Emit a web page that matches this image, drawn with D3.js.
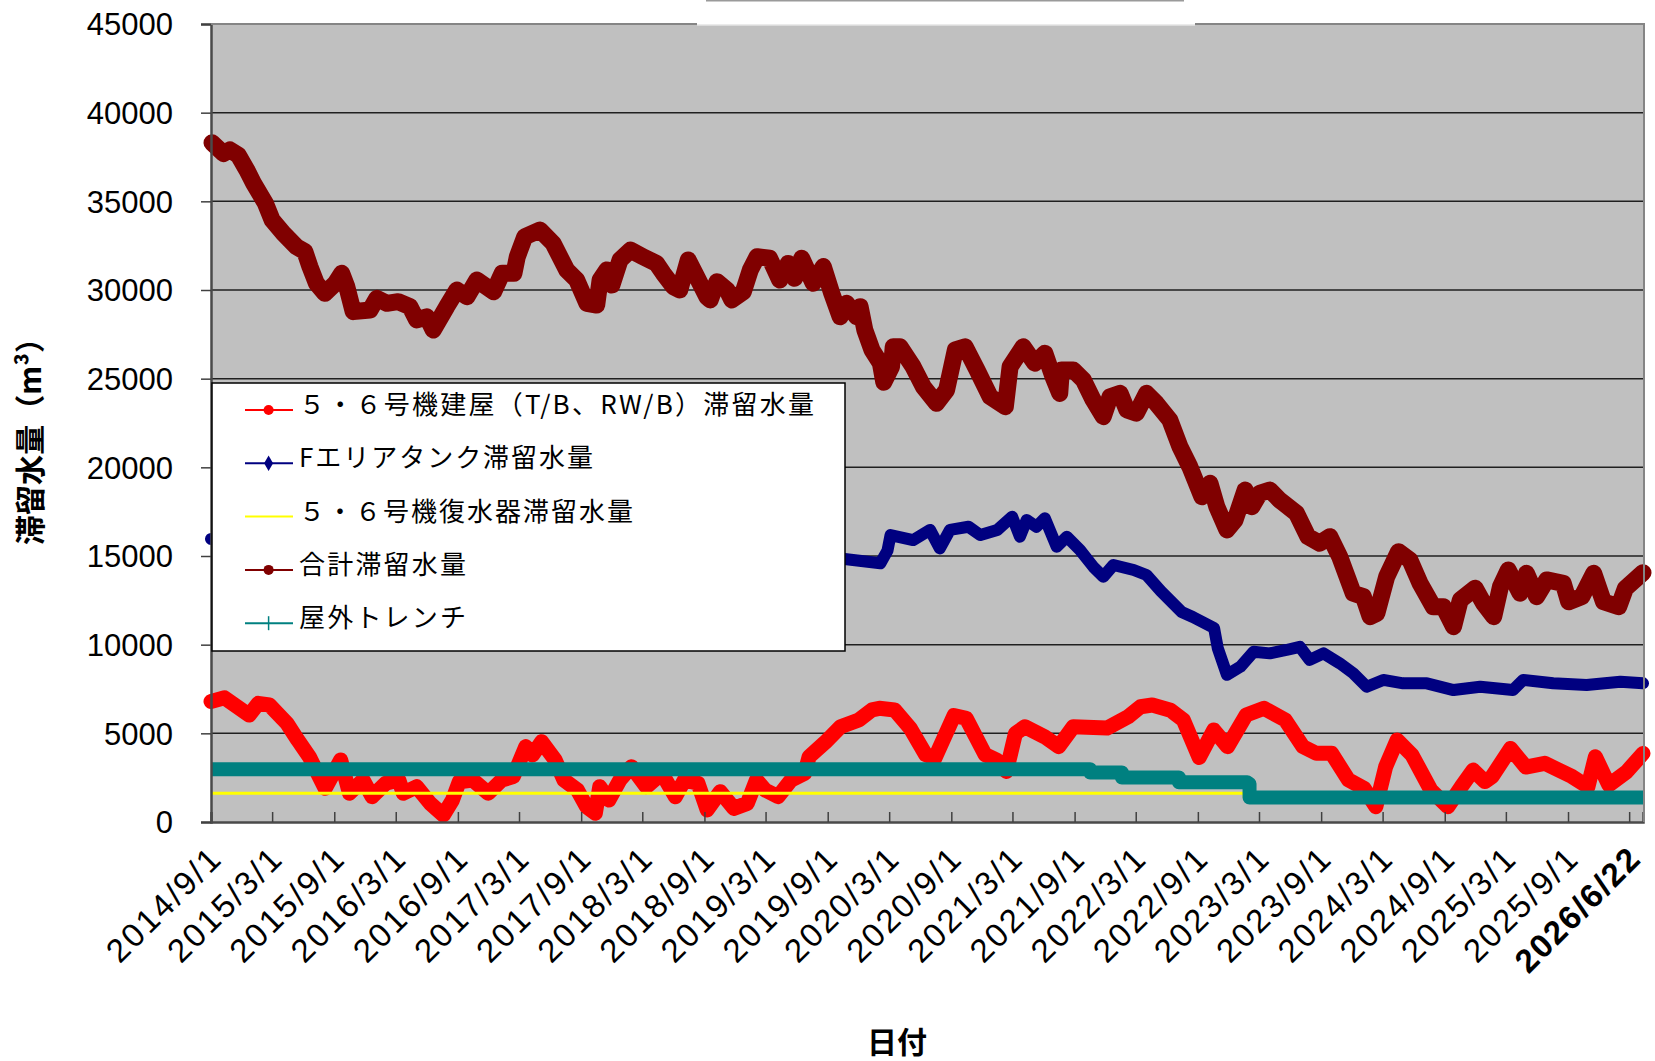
<!DOCTYPE html>
<html>
<head>
<meta charset="utf-8">
<script src="https://cdn.jsdelivr.net/npm/d3@7"></script>
<style>
body { margin: 0; background: #fff; }
svg { display: block; }
</style>
</head>
<body>
<svg width="1655" height="1061"></svg>
<script>
// ---- data ----
var xStart = "2014-09-01", xEnd = "2026-04-11";
var yTicks = [0, 5000, 10000, 15000, 20000, 25000, 30000, 35000, 40000, 45000];
var xTickLabels = ["2014/9/1", "2015/3/1", "2015/9/1", "2016/3/1", "2016/9/1", "2017/3/1",
  "2017/9/1", "2018/3/1", "2018/9/1", "2019/3/1", "2019/9/1", "2020/3/1", "2020/9/1",
  "2021/3/1", "2021/9/1", "2022/3/1", "2022/9/1", "2023/3/1", "2023/9/1", "2024/3/1",
  "2024/9/1", "2025/3/1", "2025/9/1"];
var lastTick = "2026/3/1";
var endLabel = "2026/6/22";

var legendNames = ["５・６号機建屋（T/B、RW/B）滞留水量", "Fエリアタンク滞留水量",
  "５・６号機復水器滞留水量", "合計滞留水量", "屋外トレンチ"];

// 5・6号機建屋
var bldgSeries = [["2014-09-01",6800],["2014-10-11",7000],["2014-12-23",6030],["2015-01-19",6690],
  ["2015-02-21",6600],["2015-04-14",5560],["2015-05-16",4620],["2015-06-19",3680],["2015-08-05",1900],
  ["2015-09-20",3500],["2015-10-16",1620],["2015-11-25",2370],["2015-12-22",1430],["2016-01-31",2180],
  ["2016-03-10",2370],["2016-03-23",1620],["2016-05-02",1990],["2016-06-11",1050],["2016-07-20",390],
  ["2016-08-16",1240],["2016-09-05",2270],["2016-10-15",2370],["2016-11-30",1620],["2017-01-09",2370],
  ["2017-02-12",2560],["2017-03-21",4250],["2017-04-10",3780],["2017-05-07",4530],["2017-06-16",3500],
  ["2017-07-12",2370],["2017-08-21",1800],["2017-09-17",860],["2017-10-13",490],["2017-10-26",1990],
  ["2017-11-22",1240],["2017-12-25",2370],["2018-01-28",3120],["2018-03-13",1990],["2018-04-28",2750],
  ["2018-06-07",1430],["2018-07-04",2370],["2018-08-13",2180],["2018-09-09",680],["2018-10-18",1710],
  ["2018-11-27",770],["2019-01-06",1050],["2019-02-02",2370],["2019-02-28",1800],["2019-04-07",1430],
  ["2019-05-16",2370],["2019-06-25",2750],["2019-07-08",3680],["2019-08-25",4500],["2019-10-09",5370],
  ["2019-12-02",5750],["2020-01-10",6320],["2020-02-01",6410],["2020-03-17",6320],["2020-05-02",5300],
  ["2020-06-17",3800],["2020-07-14",3590],["2020-09-09",6000],["2020-10-15",5850],["2020-12-10",3800],
  ["2021-01-13",3500],["2021-02-11",2850],["2021-03-10",5000],["2021-04-07",5370],["2021-06-04",4810],
  ["2021-07-16",4250],["2021-08-28",5370],["2021-12-06",5300],["2022-02-07",5940],["2022-03-15",6500],
  ["2022-04-19",6600],["2022-06-12",6300],["2022-07-20",5750],["2022-09-05",3640],["2022-10-18",5190],
  ["2022-11-28",4250],["2023-01-22",6030],["2023-03-16",6410],["2023-05-18",5750],["2023-07-09",4250],
  ["2023-08-18",3870],["2023-10-02",3870],["2023-11-21",2370],["2024-01-06",1900],["2024-02-10",860],
  ["2024-03-10",3120],["2024-04-13",4620],["2024-05-27",3780],["2024-07-22",1800],["2024-09-10",860],
  ["2024-10-20",1990],["2024-11-24",2930],["2024-12-29",2280],["2025-01-19",2560],["2025-03-15",4150],
  ["2025-04-29",3100],["2025-06-24",3310],["2025-09-13",2560],["2025-10-30",1990],["2025-11-21",3680],
  ["2025-12-31",2080],["2026-02-22",2840],["2026-04-11",3870]];

// Fエリアタンク (hidden under the legend until late 2019)
var tankSeries = [["2014-09-01",15960],["2019-10-21",14830],["2020-02-04",14590],["2020-02-25",15300],
  ["2020-03-05",16180],["2020-05-11",15900],["2020-06-30",16470],["2020-07-29",15430],["2020-08-28",16470],
  ["2020-10-22",16650],["2020-11-26",16180],["2021-01-15",16470],["2021-02-28",17220],["2021-03-23",16090],
  ["2021-04-12",17030],["2021-05-11",16650],["2021-06-05",17130],["2021-07-10",15520],["2021-08-09",16090],
  ["2021-09-17",15340],["2021-10-26",14400],["2021-11-25",13830],["2021-12-25",14490],["2022-02-23",14210],
  ["2022-04-02",13930],["2022-05-14",13030],["2022-07-15",11840],["2022-08-17",11560],["2022-10-19",10940],
  ["2022-10-30",9800],["2022-11-26",8300],["2023-01-05",8760],["2023-02-13",9600],["2023-04-02",9510],
  ["2023-05-21",9700],["2023-06-30",9880],["2023-07-29",9140],["2023-09-08",9510],["2023-10-26",8950],
  ["2023-12-05",8390],["2024-01-14",7630],["2024-03-03",8010],["2024-05-01",7820],["2024-07-10",7820],
  ["2024-09-27",7440],["2024-12-15",7630],["2025-03-22",7440],["2025-04-21",8010],["2025-07-19",7820],
  ["2025-10-26",7730],["2026-02-03",7910],["2026-04-11",7820]];

// 5・6号機復水器
var condSeries = [["2014-09-01",1620],["2023-01-16",1400],["2026-04-11",1400]];

// 合計
var totalSeries = [["2014-09-04",38300],["2014-10-08",37700],["2014-10-27",37900],["2014-11-21",37600],
  ["2014-12-16",36770],["2015-01-05",36020],["2015-02-09",34890],["2015-03-01",33950],["2015-04-03",33200],
  ["2015-05-12",32440],["2015-06-06",32160],["2015-06-21",31310],["2015-07-10",30380],["2015-08-04",29810],
  ["2015-09-04",30380],["2015-09-23",30940],["2015-10-08",30190],["2015-10-27",28780],["2015-12-16",28870],
  ["2016-01-05",29530],["2016-02-04",29250],["2016-03-08",29340],["2016-04-12",29060],["2016-05-02",28310],
  ["2016-06-01",28490],["2016-06-20",27740],["2016-07-30",29060],["2016-08-29",30000],["2016-09-28",29620],
  ["2016-10-27",30560],["2016-12-16",29900],["2017-01-10",30940],["2017-02-14",30940],["2017-02-24",31880],
  ["2017-03-18",33000],["2017-05-02",33380],["2017-06-10",32630],["2017-07-20",31130],["2017-08-19",30560],
  ["2017-09-18",29250],["2017-10-17",29150],["2017-10-27",30560],["2017-11-16",31130],["2017-12-01",30280],
  ["2017-12-25",31690],["2018-01-25",32250],["2018-03-03",31880],["2018-04-12",31500],["2018-05-02",30940],
  ["2018-06-01",30190],["2018-06-20",30000],["2018-07-15",31690],["2018-08-09",30750],["2018-09-08",29620],
  ["2018-09-18",29440],["2018-10-08",30470],["2018-11-07",30000],["2018-11-21",29440],["2018-12-25",29900],
  ["2019-01-15",31130],["2019-02-04",31880],["2019-03-13",31790],["2019-04-12",30560],["2019-05-07",31500],
  ["2019-05-26",30660],["2019-06-16",31790],["2019-07-20",30380],["2019-08-19",31320],["2019-09-13",29810],
  ["2019-10-08",28490],["2019-10-27",29250],["2019-11-26",28490],["2019-12-06",29060],["2019-12-20",27740],
  ["2020-01-10",26620],["2020-02-04",25870],["2020-02-14",24800],["2020-03-08",25680],["2020-03-13",26800],
  ["2020-04-02",26800],["2020-05-11",25670],["2020-06-10",24550],["2020-07-19",23610],["2020-08-18",24360],
  ["2020-09-13",26620],["2020-10-12",26800],["2020-11-16",25490],["2020-12-25",23980],["2021-02-08",23420],
  ["2021-02-22",25670],["2021-04-02",26800],["2021-05-06",25870],["2021-06-05",26430],["2021-06-29",25110],
  ["2021-07-19",24170],["2021-07-24",25490],["2021-08-28",25490],["2021-09-27",24920],["2021-10-26",23800],
  ["2021-11-25",22860],["2021-12-15",23980],["2022-01-14",24170],["2022-02-03",23230],["2022-03-03",23050],
  ["2022-04-02",24170],["2022-05-01",23610],["2022-06-10",22670],["2022-07-10",21160],["2022-08-08",20040],
  ["2022-09-13",18340],["2022-10-07",19100],["2022-10-27",17780],["2022-11-26",16470],["2022-12-20",17030],
  ["2023-01-19",18720],["2023-02-08",17780],["2023-03-03",18530],["2023-04-02",18720],["2023-05-01",18160],
  ["2023-06-20",17410],["2023-07-24",16090],["2023-08-28",15720],["2023-09-27",16090],["2023-10-26",14960],
  ["2023-12-05",12900],["2024-01-04",12710],["2024-01-24",11580],["2024-02-13",11770],["2024-03-13",13830],
  ["2024-04-17",15240],["2024-05-21",14770],["2024-06-20",13460],["2024-07-29",12140],["2024-08-28",12140],
  ["2024-09-27",11010],["2024-10-17",12520],["2024-11-30",13180],["2024-12-25",12330],["2025-01-24",11580],
  ["2025-02-13",13270],["2025-03-08",14210],["2025-04-12",12900],["2025-05-01",14020],["2025-05-31",12710],
  ["2025-06-30",13650],["2025-08-18",13460],["2025-09-03",12420],["2025-10-12",12710],["2025-11-16",14020],
  ["2025-12-15",12420],["2026-01-29",12140],["2026-02-18",13180],["2026-03-18",13650],["2026-04-11",14060]];

// 屋外トレンチ
var trenchSeries = [["2014-09-01",2980],["2021-10-17",2790],["2022-01-19",2510],["2022-07-07",2245],
  ["2023-01-25",2150],["2023-02-01",1380],["2026-04-11",1380]];

// ---- layout ----
var svg = d3.select("svg");
var plot = { left: 211, top: 24, right: 1644, bottom: 822 };
var parseDay = d3.timeParse("%Y-%m-%d");
var parseTick = d3.timeParse("%Y/%m/%d");

var x = d3.scaleTime()
    .domain([parseDay(xStart), parseDay(xEnd)])
    .range([plot.left, plot.right - 1]);
var y = d3.scaleLinear()
    .domain([0, 45000])
    .range([plot.bottom, plot.top]);

var numFont = "'Liberation Sans', Arial, sans-serif";
var jpFont = "'Noto Sans CJK JP', 'Noto Sans', sans-serif";

// plot area
svg.append("rect")
    .attr("x", plot.left).attr("y", plot.top)
    .attr("width", plot.right - plot.left).attr("height", plot.bottom - plot.top)
    .attr("fill", "#c0c0c0");

svg.append("g")
    .selectAll("line")
    .data(yTicks.filter(function(v) { return v > 0 && v < 45000; }))
    .enter().append("line")
    .attr("x1", plot.left).attr("x2", plot.right)
    .attr("y1", function(v) { return y(v); })
    .attr("y2", function(v) { return y(v); })
    .attr("stroke", "#202020")
    .attr("stroke-width", 1.5);

// series, in the original drawing order
var line = d3.line()
    .x(function(d) { return x(parseDay(d[0])); })
    .y(function(d) { return y(d[1]); });
var stepLine = d3.line()
    .curve(d3.curveStepAfter)
    .x(function(d) { return x(parseDay(d[0])); })
    .y(function(d) { return y(d[1]); });

var series = [
  { data: bldgSeries,   gen: line,     color: "#ff0000", width: 15, cap: "round" },
  { data: tankSeries,   gen: line,     color: "#000080", width: 12, cap: "round" },
  { data: condSeries,   gen: stepLine, color: "#ffff00", width: 3,  cap: "butt" },
  { data: totalSeries,  gen: line,     color: "#800000", width: 17, cap: "round" },
  { data: trenchSeries, gen: stepLine, color: "#008080", width: 14, cap: "butt" }
];

svg.append("g")
    .selectAll("path")
    .data(series)
    .enter().append("path")
    .attr("d", function(s) { return s.gen(s.data); })
    .attr("fill", "none")
    .attr("stroke", function(s) { return s.color; })
    .attr("stroke-width", function(s) { return s.width; })
    .attr("stroke-linejoin", "round")
    .attr("stroke-linecap", function(s) { return s.cap; });

// axes
var tickDates = xTickLabels.concat([lastTick]).map(parseTick);

svg.append("g")
    .attr("transform", "translate(0," + plot.bottom + ")")
    .call(d3.axisBottom(x).tickValues(tickDates).tickSize(-10).tickFormat(""))
    .call(function(g) {
      g.select(".domain").attr("stroke", "#4a4a4a").attr("stroke-width", 2.5);
      g.selectAll(".tick line").attr("stroke", "#404040").attr("stroke-width", 1.5);
    });

svg.append("g")
    .attr("transform", "translate(" + plot.left + ",0)")
    .call(d3.axisLeft(y).tickValues(yTicks).tickSize(10).tickPadding(28).tickFormat(d3.format("d")))
    .call(function(g) {
      g.select(".domain").attr("stroke", "#4a4a4a").attr("stroke-width", 2.5);
      g.selectAll(".tick line").attr("stroke", "#404040").attr("stroke-width", 1.5);
      g.selectAll(".tick text")
        .attr("font-family", numFont)
        .attr("font-size", 31)
        .attr("fill", "#000")
        .attr("dy", "0.35em");
    });

// top / right border of plot area
svg.append("path")
    .attr("d", "M" + plot.left + "," + plot.top + "H" + plot.right + "V" + plot.bottom)
    .attr("fill", "none")
    .attr("stroke", "#858585")
    .attr("stroke-width", 2);

// remains of a title box at the very top
svg.append("line")
    .attr("x1", 697).attr("x2", 1195).attr("y1", plot.top).attr("y2", plot.top)
    .attr("stroke", "#ffffff").attr("stroke-width", 3);
svg.append("line")
    .attr("x1", 697).attr("x2", 1195).attr("y1", plot.top + 1).attr("y2", plot.top + 1)
    .attr("stroke", "#d6d6d6").attr("stroke-width", 1);
svg.append("line")
    .attr("x1", 706).attr("x2", 1184).attr("y1", 0.75).attr("y2", 0.75)
    .attr("stroke", "#9a9a9a").attr("stroke-width", 1.5);

// x tick labels
svg.append("g")
    .selectAll("text")
    .data(xTickLabels)
    .enter().append("text")
    .attr("transform", function(d) {
      return "translate(" + (x(parseTick(d)) - 48) + "," + 905 + ") rotate(-45)";
    })
    .attr("text-anchor", "middle")
    .attr("dominant-baseline", "central")
    .attr("font-family", numFont)
    .attr("font-size", 33)
    .attr("textLength", 145)
    .attr("lengthAdjust", "spacing")
    .attr("fill", "#000")
    .text(function(d) { return d; });

svg.append("text")
    .attr("transform", "translate(" + (plot.right - 67) + "," + 910 + ") rotate(-45)")
    .attr("text-anchor", "middle")
    .attr("dominant-baseline", "central")
    .attr("font-family", numFont)
    .attr("font-weight", "bold")
    .attr("font-size", 33)
    .attr("textLength", 160)
    .attr("lengthAdjust", "spacing")
    .attr("fill", "#000")
    .text(endLabel);

// axis titles
svg.append("text")
    .attr("x", 897).attr("y", 1053)
    .attr("text-anchor", "middle")
    .attr("font-family", jpFont)
    .attr("font-weight", "bold")
    .attr("font-size", 30)
    .text("日付");

svg.append("text")
    .attr("transform", "translate(41,434) rotate(-90)")
    .attr("text-anchor", "middle")
    .attr("font-family", jpFont)
    .attr("font-weight", "bold")
    .attr("font-size", 30)
    .attr("textLength", 222)
    .attr("lengthAdjust", "spacing")
    .text("滞留水量（m³）");

// legend
var legend = svg.append("g");
legend.append("rect")
    .attr("x", 212).attr("y", 383)
    .attr("width", 633).attr("height", 268)
    .attr("fill", "#fff")
    .attr("stroke", "#000")
    .attr("stroke-width", 1.5);

var legendColors = ["#ff0000", "#000080", "#ffff00", "#800000", "#008080"];
var legendMarks = ["circle", "diamond", "none", "circle", "plus"];
var legendWidths = [515, 294, 334, 167, 167];

var item = legend.selectAll("g.item")
    .data(legendNames)
    .enter().append("g")
    .attr("class", "item")
    .attr("transform", function(d, i) { return "translate(0," + (410 + i * 53.3) + ")"; });

item.append("line")
    .attr("x1", 245).attr("x2", 293)
    .attr("stroke", function(d, i) { return legendColors[i]; })
    .attr("stroke-width", 2);

item.each(function(d, i) {
  var g = d3.select(this), m = legendMarks[i], c = legendColors[i];
  if (m === "circle") {
    g.append("circle").attr("cx", 268.6).attr("r", 5).attr("fill", c);
  } else if (m === "diamond") {
    g.append("path")
      .attr("transform", "translate(268.6,0)")
      .attr("d", d3.symbol().type(d3.symbolDiamond).size(70)())
      .attr("fill", c);
  } else if (m === "plus") {
    g.append("line").attr("x1", 268.6).attr("x2", 268.6).attr("y1", -7).attr("y2", 7)
      .attr("stroke", c).attr("stroke-width", 1.5);
  }
});

item.append("text")
    .attr("x", 299)
    .attr("y", 4)
    .attr("font-family", jpFont)
    .attr("font-size", 26)
    .attr("textLength", function(d, i) { return legendWidths[i]; })
    .attr("lengthAdjust", "spacing")
    .attr("fill", "#000")
    .text(function(d) { return d; });
</script>
</body>
</html>
